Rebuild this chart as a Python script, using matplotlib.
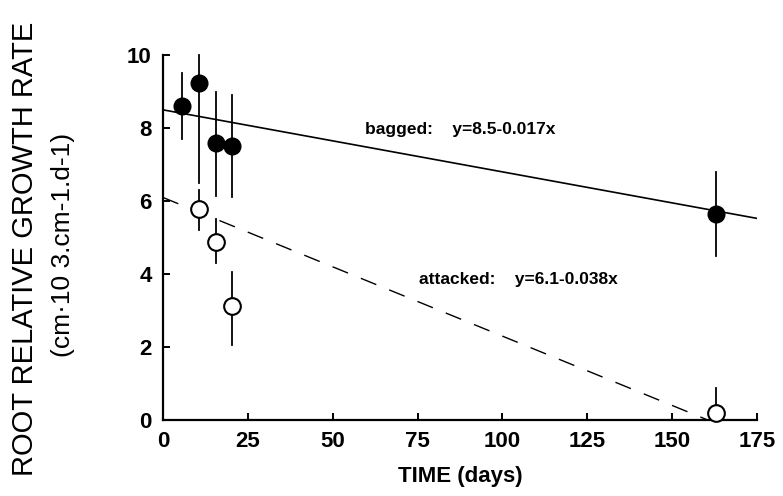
import numpy as np
import matplotlib.pyplot as plt

plt.rcParams['font.family'] = ['Liberation Sans', 'DejaVu Sans']

# bagged (filled circles)
bag_x = [5.5, 10.5, 15.5, 20.3, 163]
bag_y = [8.6, 9.23, 7.6, 7.5, 5.65]
bag_lo = [7.7, 6.5, 6.15, 6.1, 4.5]
bag_hi = [9.5, 10.0, 9.0, 8.9, 6.8]

# attacked (open circles)
att_x = [10.5, 15.5, 20.3, 163]
att_y = [5.78, 4.88, 3.12, 0.2]
att_lo = [5.2, 4.3, 2.05, 0.0]
att_hi = [6.3, 5.5, 4.05, 0.88]

# regression lines
bag_a, bag_b = 8.5, -0.017
att_a, att_b = 6.1, -0.038

fig = plt.figure(figsize=(7.83, 4.96), dpi=100)
ax = fig.add_axes([0.208, 0.153, 0.759, 0.736])

xl = np.array([0, 175])
ax.plot(xl, bag_a + bag_b * xl, color='black', lw=1.2)
xd = np.array([0, 160])
ax.plot(xd, att_a + att_b * xd, color='black', lw=1.0, dashes=(12, 10))

for xs, ys, lo, hi in [(bag_x, bag_y, bag_lo, bag_hi), (att_x, att_y, att_lo, att_hi)]:
    for x, l, h in zip(xs, lo, hi):
        ax.plot([x, x], [l, h], color='black', lw=1.3, clip_on=False, zorder=2)

ax.plot(bag_x, bag_y, 'o', color='black', ms=12, clip_on=False, zorder=3)
ax.plot(att_x, att_y, 'o', mfc='white', mec='black', mew=1.5, ms=12, clip_on=False, zorder=3)

ax.text(59.5, 7.95, 'bagged:    y=8.5-0.017x', fontsize=12.5,
        fontweight='bold', va='center')
ax.text(75.5, 3.84, 'attacked:    y=6.1-0.038x', fontsize=12.5,
        fontweight='bold', va='center')

ax.set_xlim(0, 175)
ax.set_ylim(0, 10)
ax.set_xticks(range(0, 176, 25))
ax.set_yticks(range(0, 11, 2))
for s in ['top', 'right']:
    ax.spines[s].set_visible(False)
for s in ['left', 'bottom']:
    ax.spines[s].set_linewidth(1.6)
ax.tick_params(direction='in', length=5, width=1.4, labelsize=16, pad=8)
for lab in ax.get_xticklabels() + ax.get_yticklabels():
    lab.set_fontweight('bold')

ax.set_xlabel('TIME (days)', fontsize=16, fontweight='bold', labelpad=10)
fig.text(0.032, 0.498, 'ROOT RELATIVE GROWTH RATE', rotation=90, fontsize=21,
         ha='center', va='center')
fig.text(0.080, 0.506, '(cm·10 3.cm-1.d-1)', rotation=90, fontsize=19,
         ha='center', va='center')

fig.savefig('out.png', dpi=100)
